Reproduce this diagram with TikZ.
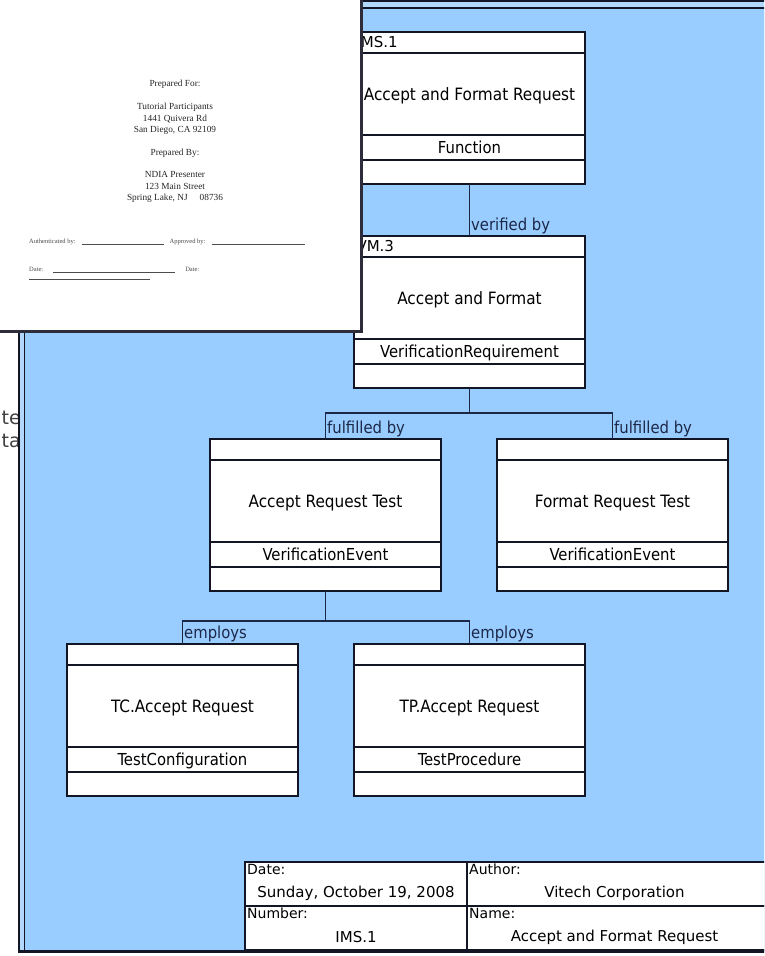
\documentclass[tikz,border=0pt]{standalone}
\usepackage{fontspec}
\setmainfont{DejaVu Sans}
\newfontfamily\condfont{DejaVu Sans Condensed}
\newfontfamily\docfont{Liberation Serif}
\usetikzlibrary{positioning}

\definecolor{winblue}{RGB}{153,204,255}
\definecolor{winedge}{RGB}{178,216,252}
\definecolor{framedark}{RGB}{18,22,36}
\definecolor{linkcol}{RGB}{28,40,72}
\definecolor{docedge}{RGB}{44,44,58}

\begin{document}
\begin{tikzpicture}[x=1pt, y=-1pt,
    hdr/.style={rectangle, draw=framedark, fill=white, line width=1.4pt, outer sep=0pt, minimum width=231pt, minimum height=21pt, text width=226pt, align=left, inner sep=2pt, font=\fontsize{15}{16}\selectfont},
    body/.style={rectangle, draw=framedark, fill=white, line width=1.4pt, outer sep=0pt, minimum width=231pt, minimum height=82pt, inner sep=2pt, text height=14pt, text depth=2pt, font=\condfont\fontsize{17}{19}\selectfont},
    kind/.style={body, minimum height=25pt, font=\condfont\fontsize{16.5}{18}\selectfont},
    foot/.style={body, minimum height=24pt},
    rel/.style={font=\condfont\fontsize{16.5}{18}\selectfont, text=linkcol, inner sep=1.5pt, anchor=south west},
    link/.style={draw=linkcol, line width=1.2pt},
    cell/.style={rectangle, draw=framedark, fill=white, line width=1.6pt, outer sep=0pt, minimum height=44pt},
    tag/.style={anchor=north west, inner sep=2pt, font=\fontsize{14}{15}\selectfont},
    val/.style={inner sep=1pt, font=\fontsize{15}{16}\selectfont},
    doctxt/.style={font=\docfont\fontsize{9.3}{11.5}\selectfont, text=black!85, align=center, inner sep=0pt},
    signtxt/.style={font=\docfont\fontsize{6.5}{8}\selectfont, text=black!70, anchor=west, inner sep=0pt}
]
\useasboundingbox (0,0) rectangle (764,956);
\clip (0,0) rectangle (764,956);

% window behind
\node[anchor=east, inner sep=0pt, font=\fontsize{19}{20}\selectfont, text=black!75] (behindA) at (21,418) {te};
\node[anchor=east, inner sep=0pt, font=\fontsize{19}{20}\selectfont, text=black!75] (behindB) at (21,441) {ta};

% diagram window
\fill[winedge] (19,0) rectangle (800,952);
\fill[winblue] (24.5,8) rectangle (800,951);
\draw[framedark, line width=2.5pt] (19.2,953) -- (19.2,1.2) -- (800,1.2);
\draw[framedark, line width=1.8pt] (24.5,951) -- (24.5,8) -- (800,8);
\draw[framedark, line width=2.5pt] (18,951.5) -- (800,951.5);

% IMS.1
\node[hdr, anchor=north] (imsHdr) at (469.5,32) {IMS.1};
\node[body, below=0pt of imsHdr] (imsBody) {Accept and Format Request};
\node[kind, below=0pt of imsBody] (imsKind) {Function};
\node[foot, below=0pt of imsKind] (imsFoot) {};

% VM.3
\node[hdr, below=52pt of imsFoot] (vmHdr) {VM.3};
\node[body, below=0pt of vmHdr] (vmBody) {Accept and Format};
\node[kind, below=0pt of vmBody] (vmKind) {VerificationRequirement};
\node[foot, below=0pt of vmKind] (vmFoot) {};

% verification events
\node[hdr, below=51pt of vmFoot, xshift=-144pt] (artHdr) {};
\node[body, below=0pt of artHdr] (artBody) {Accept Request Test};
\node[kind, below=0pt of artBody] (artKind) {VerificationEvent};
\node[foot, below=0pt of artKind] (artFoot) {};

\node[hdr, below=51pt of vmFoot, xshift=143pt] (frtHdr) {};
\node[body, below=0pt of frtHdr] (frtBody) {Format Request Test};
\node[kind, below=0pt of frtBody] (frtKind) {VerificationEvent};
\node[foot, below=0pt of frtKind] (frtFoot) {};

% configuration and procedure
\node[hdr, below=53pt of artFoot, xshift=-143pt] (tcHdr) {};
\node[body, below=0pt of tcHdr] (tcBody) {TC.Accept Request};
\node[kind, below=0pt of tcBody] (tcKind) {TestConfiguration};
\node[foot, below=0pt of tcKind] (tcFoot) {};

\node[hdr, below=53pt of artFoot, xshift=144pt] (tpHdr) {};
\node[body, below=0pt of tpHdr] (tpBody) {TP.Accept Request};
\node[kind, below=0pt of tpBody] (tpKind) {TestProcedure};
\node[foot, below=0pt of tpKind] (tpFoot) {};

% relations
\draw[link] (imsFoot.south) -- (vmHdr.north);
\node[rel] (verLbl) at (vmHdr.north) {verified by};

\coordinate[below=25pt of vmFoot] (vmFork);
\draw[link] (vmFoot.south) -- (vmFork) -| (artHdr.north);
\draw[link] (vmFork) -| (frtHdr.north);
\node[rel] (fulLblA) at (artHdr.north) {fulfilled by};
\node[rel] (fulLblB) at (frtHdr.north) {fulfilled by};

\coordinate[below=30pt of artFoot] (artFork);
\draw[link] (artFoot.south) -- (artFork) -| (tcHdr.north);
\draw[link] (artFork) -| (tpHdr.north);
\node[rel] (empLblA) at (tcHdr.north) {employs};
\node[rel] (empLblB) at (tpHdr.north) {employs};

% title block
\node[cell, minimum width=222pt, anchor=north west] (dateCell) at (245,862) {};
\node[cell, minimum width=303pt, right=0pt of dateCell] (authCell) {};
\node[cell, minimum width=222pt, below=0pt of dateCell] (numCell) {};
\node[cell, minimum width=303pt, right=0pt of numCell] (nameCell) {};
\node[tag] (dateTag) at (dateCell.north west) {Date:};
\node[tag] (authTag) at (authCell.north west) {Author:};
\node[tag] (numTag) at (numCell.north west) {Number:};
\node[tag] (nameTag) at (nameCell.north west) {Name:};
\node[val] (dateVal) at ([yshift=-9pt]dateCell.center) {Sunday, October 19, 2008};
\node[val] (authVal) at ([yshift=-9pt, xshift=-4pt]authCell.center) {Vitech Corporation};
\node[val] (numVal) at ([yshift=-9pt]numCell.center) {IMS.1};
\node[val] (nameVal) at ([yshift=-9pt, xshift=-4pt]nameCell.center) {Accept and Format Request};

% document window on top
\fill[white] (0,0) rectangle (361,331);
\draw[docedge, line width=3pt] (361.5,-2) -- (361.5,331.5) -- (-2,331.5);
\node[doctxt] (prepFor) at (175,84) {Prepared For:};
\node[doctxt] (client) at (175,119) {Tutorial Participants\\1441 Quivera Rd\\San Diego, CA 92109};
\node[doctxt] (prepBy) at (175,153) {Prepared By:};
\node[doctxt] (presenter) at (175,187) {NDIA Presenter\\123 Main Street\\Spring Lake, NJ\hspace{12pt}08736};
\node[signtxt] (authSign) at (29,242) {Authenticated by:\hspace{6pt}\rule[-1pt]{82pt}{0.6pt}\hspace{6pt}Approved by:\hspace{6pt}\rule[-1pt]{93pt}{0.6pt}};
\node[signtxt] (dateSign) at (29,270) {Date:\hspace{10pt}\rule[-1pt]{122pt}{0.6pt}\hspace{10pt}Date:};
\node[signtxt] (dateRule) at (29,279) {\rule{121pt}{0.6pt}};
\end{tikzpicture}
\end{document}
